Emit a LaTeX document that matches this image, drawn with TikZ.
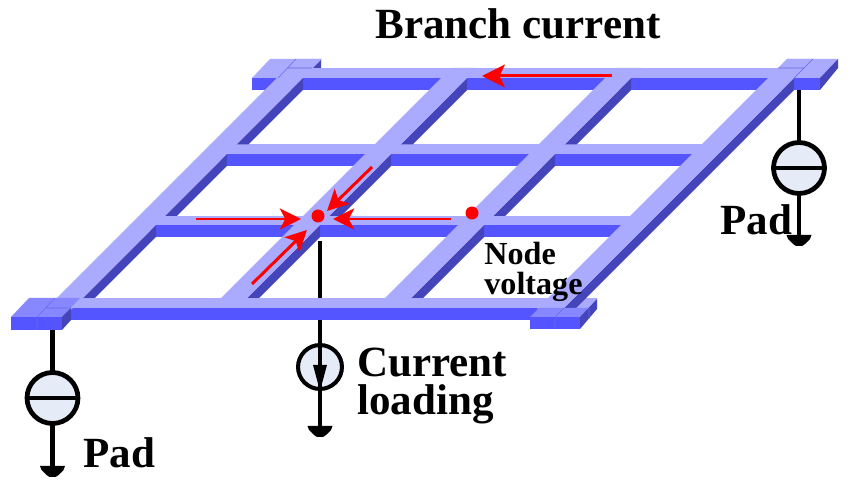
\documentclass[tikz,border=0pt]{standalone}
\usepackage{fontspec}
\setmainfont{Liberation Serif}
\usetikzlibrary{arrows.meta}
\definecolor{metaltop}{RGB}{170,170,255}
\definecolor{metalfront}{RGB}{85,85,255}
\definecolor{metalside}{RGB}{68,68,187}
\definecolor{padtop}{RGB}{135,135,255}
\definecolor{padseam}{RGB}{105,105,225}
\definecolor{srcfill}{RGB}{230,236,247}
\tikzset{
  wire/.style={line width=2.7pt},
  source/.style={circle,draw,line width=2.7pt,fill=srcfill,inner sep=0pt,minimum size=#1},
  redarrow/.style={red,line width=1.7pt,-{Stealth[length=12pt,width=12pt,inset=3pt]}},
  reddot/.style={circle,fill=red,inner sep=0pt,minimum size=7.4pt},
  seam/.style={padseam,line width=0.3pt},
  bigtext/.style={font=\fontsize{24.5}{21.5}\selectfont\bfseries,align=left},
  smalltext/.style={font=\fontsize{18.3}{17}\selectfont\bfseries,align=left},
  groundtip/.pic={\fill (-12.5,0)--(12.5,0)--(11,4)--(6,9)--(3,11)--(-3,11)--(-6,9)--(-11,4)--cycle;},
}
\begin{document}
\begin{tikzpicture}[x=0.02cm,y=-0.02cm]
    \useasboundingbox (0,0) rectangle (851,492);
    % wires and sources
    \coordinate (gndleft) at (52.5,466);
    \coordinate (gndright) at (799,235);
    \coordinate (gndload) at (320,426);
    \coordinate (padleft) at (52.5,329);
    \coordinate (padright) at (799,89);
    \coordinate (loadtop) at (320,241);
    \draw [wire] (padleft)--(gndleft);
    \draw [wire] (padright)--(gndright);
    \draw [wire] (loadtop)--(gndload);
    \pic at (gndleft) {groundtip};
    \pic at (gndright) {groundtip};
    \pic at (gndload) {groundtip};
    \node [source=29pt] (srcleft) at (52.5,398) {};
    \node [source=29pt] (srcright) at (799,168) {};
    \node [source=25pt,line width=2.3pt] (srcload) at (320,367) {};
    \draw [wire] (srcleft.west)--(srcleft.east);
    \draw [wire] (srcright.west)--(srcright.east);
    \draw [wire] (srcload.north)--(srcload.south);
    \fill (313,365)--(327,365)--(320,391)--cycle;
    % upper pads
    \fill [metalfront] (252,78) rectangle (303,90);
    \fill [metaltop] (252,78)--(270,59)--(321,59)--(303,78)--cycle;
    \fill [metalside] (312,68)--(321,59)--(321,68)--cycle;
    \fill [metalfront] (794,78) rectangle (820,90);
    \fill [metaltop] (769,78)--(787,59)--(838,59)--(820,78)--cycle;
    \fill [metalside] (820,78)--(838,59)--(838,68)--(820,90)--cycle;
    % horizontal bars
    \foreach \xa/\xb/\xc/\ya/\yb/\yc in {
      300/790/820/68/78/90,
      220/703/703/144.5/154/166.5,
      150/632/632/216/225/237,
      70/597/545/298/308/320}
    {
      \fill [metalfront] (\xa,\yb) rectangle (\xc,\yc);
      \fill [metaltop] (\xa,\ya) rectangle (\xb,\yb);
    }
    % diagonal bars
    \foreach \r/\t/\u in {303/59/317,467/68/308,631/68/308}
    {
      \foreach \a/\b in {78/144.5,154/216,225/298}
      \fill [metalside] ({\r-\a+78},\a)--({\r-\a+78},\a+12)--({\r-\b+90},\b)--({\r-\b+78},\b)--cycle;
      \fill [metaltop] ({\r-\t+78},\t)--({\r-\t+52},\t)--({\r-\u+52},\u)--({\r-\u+78},\u)--cycle;
    }
    \fill [metalside] (794,78)--(794,90)--(576,308)--(564,308)--cycle;
    \fill [metaltop] (813,59)--(787,59)--(537,309)--(563,309)--cycle;
    % lower pads
    \fill [metalfront] (11,317) rectangle (62,330);
    \fill [padtop] (11,317)--(29,298)--(80,298)--(62,317)--cycle;
    \fill [metalside] (62,317)--(71,308)--(71,320)--(62,330)--cycle;
    \fill [metalfront] (530,317) rectangle (580,329);
    \fill [padtop] (530,317)--(539,308)--(589,308)--(580,317)--cycle;
    \fill [metalside] (580,317)--(597,299)--(597,309)--(580,329)--cycle;
    \draw [seam] (37,317)--(37,330) (37,317)--(55,298) (46,308)--(71,308);
    \draw [seam] (555,317)--(555,329) (555,317)--(564,308) (589,308)--(589,319);
    \draw [seam] (296,59)--(278,78) (287,68)--(312,68);
    \draw [seam] (813,59)--(794,78) (778,68)--(804,68);
    % currents
    \coordinate (topfrom) at (612,76);
    \coordinate (topto) at (482,76);
    \coordinate (westfrom) at (196,219);
    \coordinate (westto) at (301,219);
    \coordinate (eastfrom) at (451,219);
    \coordinate (eastto) at (333,219);
    \coordinate (northfrom) at (372,167);
    \coordinate (northto) at (327,211);
    \coordinate (southfrom) at (252,284);
    \coordinate (southto) at (307,230);
    \draw [redarrow,-{Stealth[length=13pt,width=13pt,inset=3pt]}] (topfrom)--(topto);
    \draw [redarrow] (westfrom)--(westto);
    \draw [redarrow] (eastfrom)--(eastto);
    \draw [redarrow] (northfrom)--(northto);
    \draw [redarrow] (southfrom)--(southto);
    \node [reddot] (nodeload) at (318,216) {};
    \node [reddot] (nodevolt) at (472,213) {};
    % labels
    \node [bigtext,anchor=base] (branch) at (518,39) {Branch current};
    \node [bigtext,anchor=base west,inner sep=0pt] (padl) at (83,468) {Pad};
    \node [bigtext,anchor=base west,inner sep=0pt] (padr) at (720,235) {Pad};
    \node [bigtext,anchor=north west,inner sep=0pt] (load) at (357,348) {Current\\loading};
    \node [smalltext,anchor=north west,inner sep=0pt] (volt) at (484,242) {Node\\voltage};
\end{tikzpicture}
\end{document}
